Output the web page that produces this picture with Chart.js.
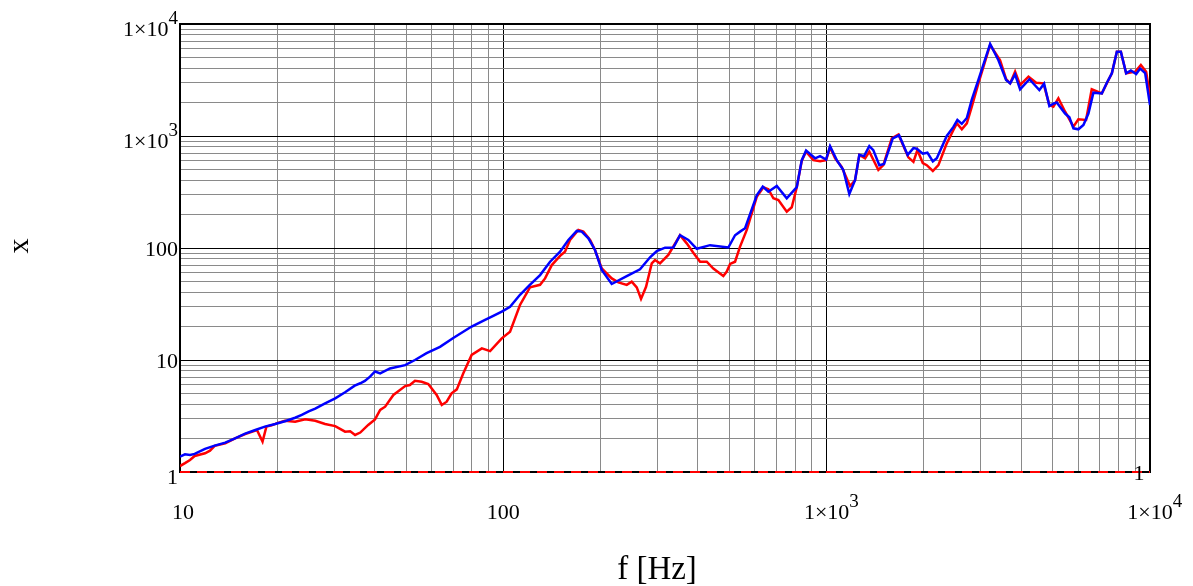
<!DOCTYPE html>
<html>
<head>
<meta charset="utf-8">
<script src="https://cdn.jsdelivr.net/npm/chart.js@4/dist/chart.umd.min.js"></script>
<style>
  html, body { margin: 0; padding: 0; background: #fff; }
  canvas { display: block; }
</style>
</head>
<body>
<canvas id="c" width="1193" height="586"></canvas>
<script>
// ---- data ----
const blueFreq = [10,10.36,10.74,11.1,11.95,12.8,13.8,14.8,15.9,17.1,18.3,19.7,21.1,22.7,23.8,25.0,26.2,28.1,30.2,32.4,34.7,36.1,37.3,38.7,40.1,41.6,44.6,49.7,53.3,57.9,63.7,70,79.8,87.8,93.1,98.9,104.9,112.6,121,129.9,139.5,149.8,158.9,168.7,174.8,183.3,192.1,201.5,216.4,240.8,264.7,284.3,298.2,316.4,335.7,352,373.4,396.5,435.9,496.5,520.8,539.7,559.4,607.8,634.4,660.2,701,752.6,808.2,837.5,863.6,920.7,954.1,995.7,1024.5,1074.6,1126,1175,1224,1262,1305,1355,1394,1455,1505,1601,1675,1780,1855,1900,1983,2049,2130,2191,2352,2466,2537,2618,2713,2811,2946,3203,3398,3589,3694,3826,3965,4237,4548,4704,4884,5025,5148,5463,5632,5796,6004,6225,6449,6683,7096,7355,7621,7898,8125,8438,8726,9063,9323,9661,10000];
const blueVal = [1.37,1.44,1.42,1.45,1.61,1.72,1.83,2.0,2.2,2.37,2.54,2.68,2.84,3.05,3.23,3.48,3.68,4.1,4.55,5.15,5.9,6.2,6.5,7.1,7.9,7.6,8.4,9.0,10,11.5,13.1,15.7,19.9,22.8,24.8,27.0,29.9,38.2,47,57.3,75.4,92.7,118,142,140,122,96,63.7,47.7,56.2,64.6,82.6,94,100.6,101,130,118,98.4,106,101,130,140,150,296,353,318,358,278,349,609,740,632,661,617,812,609,497,303,403,678,661,812,748,549,562,952,1015,678,780,770,696,710,594,632,1000,1206,1389,1284,1449,2110,3162,6631,4753,3162,2950,3550,2610,3213,2570,2929,1853,1941,1993,1587,1468,1171,1147,1252,1587,2437,2400,2986,3627,5660,5660,3627,3853,3575,4005,3650,1890];

const redFreq = [10,10.36,10.74,11.1,11.95,12.38,12.8,13.8,14.8,15.9,17.3,18.0,18.5,19.2,19.9,21.1,22.7,24.4,26.2,28.1,30.2,32.4,33.6,34.8,36.1,38.2,40.1,41.6,43.1,45.7,49.7,51.4,53.3,55.9,58.6,62.2,64.5,66.8,69.2,71.8,75.2,79.8,85.8,91.0,98.9,104.9,112.6,120.9,129.9,134.6,141.2,149.8,155.1,160.8,170.6,176.8,185.5,192.1,201.5,216.4,226.9,240.8,249.5,258.6,266.6,276.3,287.7,294.5,305.1,323.8,352,369.1,386.9,405.9,425.7,446.1,479.1,490.9,502.8,520.8,539.7,566.1,607.8,637.3,660.2,684.1,709.1,752.6,779.9,808.2,837.5,863.6,909.7,954.1,995.7,1024.5,1062,1113,1181,1224,1262,1315,1355,1445,1497,1590,1667,1789,1855,1908,1983,2040,2130,2216,2352,2466,2527,2618,2713,2811,2946,3203,3439,3589,3694,3826,3965,4209,4446,4683,4884,5025,5208,5463,5796,6004,6343,6604,7096,7621,7898,8125,8438,8999,9370,9730,10000];
const redVal = [1.13,1.2,1.28,1.39,1.47,1.55,1.71,1.8,2.0,2.18,2.37,1.87,2.54,2.61,2.72,2.87,2.81,2.95,2.87,2.68,2.57,2.29,2.31,2.14,2.25,2.63,2.95,3.58,3.83,4.87,5.85,5.98,6.53,6.4,6.11,4.87,3.97,4.24,5.04,5.47,7.6,11.1,12.7,12.0,15.6,17.9,31.0,44.5,46.9,53.5,70.4,85,92.7,118,145,140,118,96,65.6,53.5,49.3,46.9,50.1,44.5,35.1,45,72.9,78.1,72.9,86.8,130,110,90.6,75.4,75.4,65.6,56.2,61.6,72,75.4,103,145,286,349,335,278,268,211,231,349,601,726,609,594,609,792,632,529,358,403,678,632,726,497,549,952,1032,645,588,748,574,549,487,549,860,1131,1298,1147,1298,1826,2954,6494,4753,3213,2950,3751,2850,3384,2991,2954,1891,1826,2171,1648,1211,1410,1389,2612,2400,3627,5660,5660,3627,3751,4304,3751,2244];

const refFreq = [10, 10000];
const refVal = [1, 1];

const xTickValues = [10, 100, 1000, 10000];
const xTickLabels = [['10',''], ['100',''], ['1×10','3'], ['1×10','4']];
const yTickValues = [1, 10, 100, 1000, 10000];
const yTickLabels = [['1',''], ['10',''], ['100',''], ['1×10','3'], ['1×10','4']];
const xTitle = 'f [Hz]';
const yTitle = 'x';
const markerLabel = '1';

// ---- helpers ----
const toPts = (xs, ys) => xs.map((x, i) => ({x, y: ys[i]}));
function logGrid(min, max) {
  const out = [];
  for (let d = min; d < max; d *= 10) for (let m = 1; m < 10; m++) out.push(d * m);
  out.push(max);
  return out;
}
const isDecade = v => Math.abs(Math.log10(v) - Math.round(Math.log10(v))) < 1e-6;
const gridColor = ctx => (ctx.tick && isDecade(ctx.tick.value)) ? '#000000' : '#8a8a8a';

const FONT = '"Liberation Serif", "Times New Roman", serif';

const labelPlugin = {
  id: 'labels',
  beforeDatasetsDraw(chart) {
    const {ctx, chartArea: a} = chart;
    ctx.save();
    ctx.strokeStyle = '#000';
    ctx.lineWidth = 2;
    ctx.strokeRect(a.left, a.top, a.right - a.left, a.bottom - a.top);
    ctx.restore();
  },
  afterDraw(chart) {
    const {ctx, scales: {x, y}} = chart;
    ctx.save();
    ctx.fillStyle = '#000';
    const baseFont = '22px ' + FONT;
    const supFont = '19px ' + FONT;
    // y labels
    yTickValues.forEach((v, i) => {
      const [b, s] = yTickLabels[i];
      const py = y.getPixelForValue(v);
      ctx.font = baseFont;
      const bw = ctx.measureText(b).width;
      ctx.font = supFont;
      const sw = s ? ctx.measureText(s).width : 0;
      const right = 178;
      ctx.textBaseline = 'alphabetic';
      ctx.textAlign = 'left';
      ctx.font = baseFont;
      const base = s ? py + 12 : (v === 1 ? py + 12 : py + 8);
      ctx.fillText(b, right - sw - bw, base);
      if (s) { ctx.font = supFont; ctx.fillText(s, right - sw, base - 12); }
    });
    // x labels
    xTickValues.forEach((v, i) => {
      const [b, s] = xTickLabels[i];
      const px = x.getPixelForValue(v);
      ctx.font = baseFont;
      const bw = ctx.measureText(b).width;
      const base = 519;
      ctx.textAlign = 'left';
      ctx.textBaseline = 'alphabetic';
      const off = (v === 10) ? 3 : 0;
      ctx.fillText(b, px - bw / 2 + off, base);
      if (s) { ctx.font = supFont; ctx.fillText(s, px + bw / 2, base - 12); }
    });
    // marker label "1"
    ctx.font = baseFont;
    ctx.textAlign = 'center';
    ctx.textBaseline = 'alphabetic';
    ctx.fillText(markerLabel, 1139, 480);
    // axis titles
    ctx.font = '33px ' + FONT;
    ctx.textAlign = 'center';
    ctx.fillText(xTitle, 657, 579);
    ctx.save();
    ctx.translate(20, 246);
    ctx.rotate(-Math.PI / 2);
    ctx.textBaseline = 'middle';
    ctx.font = '30px ' + FONT;
    ctx.fillText(yTitle, 0, 0);
    ctx.restore();
    ctx.restore();
  }
};

new Chart(document.getElementById('c'), {
  type: 'line',
  data: {
    datasets: [
      { data: toPts(refFreq, refVal), borderColor: '#ff0000', borderWidth: 2, borderDash: [10, 7], pointRadius: 0, tension: 0, order: 0, clip: 6 },
      { data: toPts(blueFreq, blueVal), borderColor: '#0000ff', borderWidth: 2.5, pointRadius: 0, tension: 0, order: 1 },
      { data: toPts(redFreq, redVal), borderColor: '#ff0000', borderWidth: 2.5, pointRadius: 0, tension: 0, order: 2 }
    ]
  },
  options: {
    responsive: false,
    animation: false,
    events: [],
    layout: { padding: { left: 180, right: 43, top: 24, bottom: 114 } },
    plugins: { legend: { display: false }, tooltip: { enabled: false } },
    scales: {
      x: {
        type: 'logarithmic', min: 10, max: 10000,
        afterBuildTicks: s => { s.ticks = logGrid(10, 10000).map(v => ({value: v})); },
        ticks: { display: false },
        grid: { color: gridColor, lineWidth: 1, drawTicks: false },
        border: { display: false }
      },
      y: {
        type: 'logarithmic', min: 1, max: 10000,
        afterBuildTicks: s => { s.ticks = logGrid(1, 10000).map(v => ({value: v})); },
        ticks: { display: false },
        grid: { color: gridColor, lineWidth: 1, drawTicks: false },
        border: { display: false }
      }
    }
  },
  plugins: [labelPlugin]
});
</script>
</body>
</html>
